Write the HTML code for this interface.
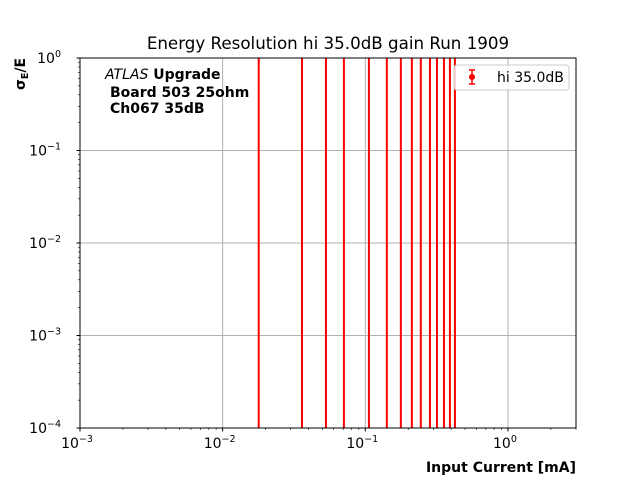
<!DOCTYPE html>
<html><head><meta charset="utf-8"><style>
body{margin:0;background:#fff}
svg text{font-family:"DejaVu Sans","Liberation Sans",sans-serif}
</style></head><body>
<svg id="chart" width="640" height="480" xmlns="http://www.w3.org/2000/svg">
<rect width="640" height="480" fill="#fff"/>
<g id="grid"></g>
<g id="ticks"></g>
<g id="marks"></g>
<rect x="80" y="58" width="496" height="370" fill="none" stroke="#000" stroke-width="1"/>
<text x="328" y="49" text-anchor="middle" font-size="16.7">Energy Resolution hi 35.0dB gain Run 1909</text>
<text x="576" y="472" text-anchor="end" font-size="14" font-weight="bold">Input Current [mA]</text>
<text transform="translate(25,90) rotate(-90)" font-size="14" font-weight="bold">σ<tspan font-size="9.5" dy="3">E</tspan><tspan dy="-3">/E</tspan></text>
<g font-size="14" font-weight="bold">
<text x="105" y="79"><tspan font-style="italic" font-weight="normal">ATLAS</tspan> Upgrade</text>
<text x="110" y="97">Board 503 25ohm</text>
<text x="110" y="113">Ch067 35dB</text>
</g>
<g>
<rect x="454" y="65" width="115" height="25" rx="3" fill="#fff" fill-opacity="0.8" stroke="#ccc"/>
<line x1="472" y1="70" x2="472" y2="84" stroke="red" stroke-width="1.5"/>
<line x1="469" y1="70" x2="475" y2="70" stroke="red" stroke-width="1.5"/>
<line x1="469" y1="84" x2="475" y2="84" stroke="red" stroke-width="1.5"/>
<circle cx="472" cy="77" r="3" fill="red"/>
<text x="497" y="82" font-size="14">hi 35.0dB</text>
</g>
</svg>
<script>
const currents=[0.0179,0.036,0.053,0.0708,0.106,0.1416,0.1775,0.212,0.245,0.284,0.318,0.356,0.392,0.425];
const resolution=[1e-6,1e-6,1e-6,1e-6,1e-6,1e-6,1e-6,1e-6,1e-6,1e-6,1e-6,1e-6,1e-6,1e-6];
const errLow=[1,1,1,1,1,1,1,1,1,1,1,1,1,1];
const errHigh=[10,10,10,10,10,10,10,10,10,10,10,10,10,10];
const xTickVals=[0.001,0.01,0.1,1];
const xTickLabels=["10","10","10","10"];
const xTickExp=["−3","−2","−1","0"];
const yTickVals=[1e-4,1e-3,1e-2,1e-1,1];
const yTickExp=["−4","−3","−2","−1","0"];
const NS="http://www.w3.org/2000/svg";
const X0=80,X1=576,Y0=58,Y1=428;
const lxmin=-3,lxmax=Math.log10(3.0),lymin=-4,lymax=0;
function xs(v){return X0+(Math.log10(v)-lxmin)/(lxmax-lxmin)*(X1-X0);}
function ys(v){let l=Math.log10(v);return Y1-(l-lymin)/(lymax-lymin)*(Y1-Y0);}
function el(t,a,p){const e=document.createElementNS(NS,t);for(const k in a)e.setAttribute(k,a[k]);p.appendChild(e);return e;}
const grid=document.getElementById('grid'),ticks=document.getElementById('ticks'),marks=document.getElementById('marks');
xTickVals.forEach((v,i)=>{const x=xs(v);
 const g=el('line',{x1:x,x2:x,y1:Y0,y2:Y1,stroke:'#b0b0b0','stroke-width':1},grid);
 
 
 el('line',{x1:x,x2:x,y1:Y1,y2:Y1+3.5,stroke:'#000'},ticks);
 const t=el('text',{x:x-3,y:Y1+20,'text-anchor':'middle','font-size':14},ticks);
 
 
 t.textContent=xTickLabels[i];
 const s=el('tspan',{'font-size':9.5,dy:-6},t);s.textContent=xTickExp[i];
});
for(let d=-3;d<=0;d++)for(let k=2;k<=9;k++){const v=k*Math.pow(10,d);if(Math.log10(v)>lxmax)break;const x=xs(v);el('line',{x1:x,x2:x,y1:Y1,y2:Y1+2,stroke:'#000','stroke-width':0.6},ticks);}
yTickVals.forEach((v,i)=>{const y=ys(v);
 const g=el('line',{x1:X0,x2:X1,y1:y,y2:y,stroke:'#b0b0b0','stroke-width':1},grid);
 
 
 el('line',{x1:X0-3.5,x2:X0,y1:y,y2:y,stroke:'#000'},ticks);
 const t=el('text',{x:X0-19,y:y+5,'text-anchor':'end','font-size':14},ticks);
 
 
 t.textContent='10';
 const s=el('tspan',{'font-size':9.5,dy:-6},t);s.textContent=yTickExp[i];
});
for(let d=-4;d<0;d++)for(let k=2;k<=9;k++){const y=ys(k*Math.pow(10,d));el('line',{x1:X0-2,x2:X0,y1:y,y2:y,stroke:'#000','stroke-width':0.6},ticks);}
currents.forEach((c,i)=>{const x=xs(c);
 const lo=Math.max(resolution[i]-errLow[i],1e-12),hi=resolution[i]+errHigh[i];
 let y1=Math.min(Y1,ys(lo)),y2=Math.max(Y0,ys(hi));
 if(!(y1>=Y0))y1=Y1;
 const l=el('line',{x1:x,x2:x,y1:y1,y2:y2,stroke:'red','stroke-width':2},marks);
 
 
});
</script>
</body></html>
